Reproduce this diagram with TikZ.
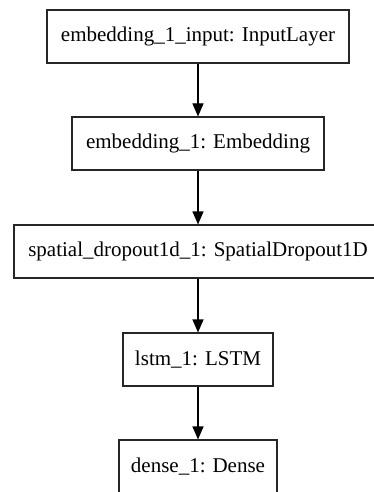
\documentclass[tikz,border=0pt]{standalone}
\usepackage{fontspec}
\setmainfont{Liberation Serif}
\usetikzlibrary{arrows.meta}
\begin{document}
\begin{tikzpicture}[x=1pt,y=1pt,
  layer/.style={draw=black!85, line width=1.1pt, rectangle, minimum height=53pt, inner sep=0pt,
    font=\fontsize{21}{25}\selectfont, anchor=center},
  flow/.style={line width=1.1pt, -{Triangle[length=13pt,width=11pt]}}]
\useasboundingbox (0,0) rectangle (374,-492);
\clip (0,0) rectangle (374,-492);
\fill[white] (0,0) rectangle (374,-492);
\node[layer, minimum width=302pt] (inp) at (198,-36.5) {embedding\_1\_input: InputLayer};
\node[layer, minimum width=252pt] (emb) at (198,-143.5) {embedding\_1: Embedding};
\node[layer, minimum width=368pt] (drop) at (198,-251.5) {spatial\_dropout1d\_1: SpatialDropout1D};
\node[layer, minimum width=150pt] (lstm) at (198,-359.5) {lstm\_1: LSTM};
\node[layer, minimum width=158pt] (dense) at (198,-466.5) {dense\_1: Dense};
\draw[flow] (inp) -- (emb);
\draw[flow] (emb) -- (drop);
\draw[flow] (drop) -- (lstm);
\draw[flow] (lstm) -- (dense);
\end{tikzpicture}
\end{document}
